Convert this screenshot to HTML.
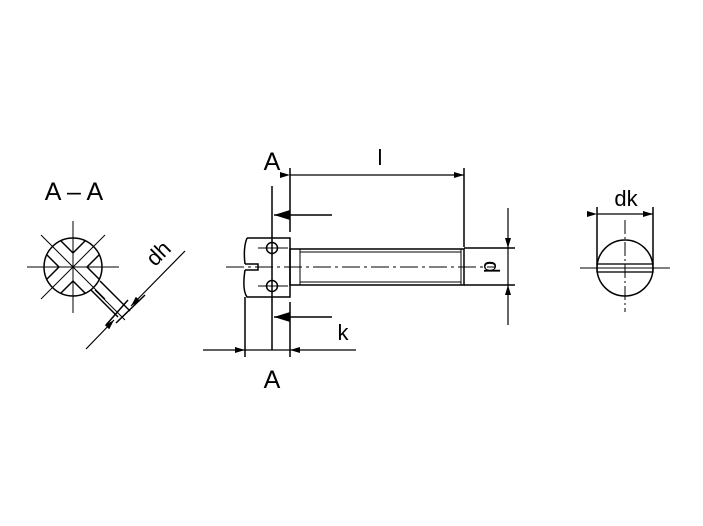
<!DOCTYPE html>
<html><head><style>body{margin:0;background:#fff}svg{display:block}</style></head><body>
<svg width="703" height="526" viewBox="0 0 703 526" xmlns="http://www.w3.org/2000/svg" font-family="Liberation Sans, sans-serif">
<defs>
<marker id="ar" viewBox="0 0 10 6" refX="10" refY="3" markerWidth="10" markerHeight="6" orient="auto" markerUnits="userSpaceOnUse"><path d="M0,0L10,3L0,6z" fill="#000"/></marker>
<marker id="big" viewBox="0 0 16 10" refX="16" refY="5" markerWidth="16" markerHeight="10" orient="auto" markerUnits="userSpaceOnUse"><path d="M0,0L16,5L0,10z" fill="#000"/></marker>
</defs>
<g stroke="#000" fill="none" stroke-width="1.5">
<!-- main view -->
<path d="M247,238 H290 V297 H247 Q242,290 245,270 M245,264 Q243,248 247,238"/>
<path d="M245,264 H258 V270 H245"/>
<rect x="290" y="249" width="174" height="36"/>
<line x1="300" y1="252" x2="461" y2="252" stroke-width="1"/>
<line x1="300" y1="282" x2="461" y2="282" stroke-width="1"/>
<line x1="300" y1="249" x2="300" y2="285" stroke-width="1"/>
<line x1="461" y1="249" x2="461" y2="285" stroke-width="1"/>
<line x1="226" y1="267" x2="495" y2="267" stroke-width="1" stroke-dasharray="18,4,3,4"/>
<circle cx="272" cy="248" r="5.5"/><circle cx="272" cy="286" r="5.5"/>
<line x1="258" y1="248" x2="288" y2="248" stroke-width="1"/>
<line x1="258" y1="286" x2="288" y2="286" stroke-width="1"/>
<line x1="272" y1="186" x2="272" y2="350"/>
<!-- l -->
<line x1="290" y1="168" x2="290" y2="232"/>
<line x1="464" y1="168" x2="464" y2="247"/>
<line x1="290" y1="175" x2="464" y2="175" marker-start="url(#ar)" marker-end="url(#ar)" stroke-width="1.2"/>
<!-- A arrows -->
<line x1="332" y1="215" x2="274" y2="215" marker-end="url(#big)"/>
<line x1="332" y1="317" x2="274" y2="317" marker-end="url(#big)"/>
<!-- k -->
<line x1="290" y1="302" x2="290" y2="357"/>
<line x1="245" y1="297" x2="245" y2="357"/>
<line x1="203" y1="350" x2="245" y2="350" marker-end="url(#ar)" stroke-width="1.2"/>
<line x1="356" y1="350" x2="290" y2="350" marker-end="url(#ar)" stroke-width="1.2"/>
<line x1="245" y1="350" x2="290" y2="350" stroke-width="1.2"/>
<!-- d -->
<line x1="464" y1="248" x2="515" y2="248"/>
<line x1="464" y1="285" x2="515" y2="285"/>
<line x1="508" y1="208" x2="508" y2="248" marker-end="url(#ar)" stroke-width="1.2"/>
<line x1="508" y1="325" x2="508" y2="285" marker-end="url(#ar)" stroke-width="1.2"/>
<line x1="508" y1="248" x2="508" y2="285" stroke-width="1.2"/>
<!-- A-A section -->
<circle cx="73" cy="267" r="29"/>
<line x1="27" y1="267" x2="119" y2="267" stroke-width="1"/>
<line x1="73" y1="221" x2="73" y2="313" stroke-width="1"/>
<line x1="41" y1="235" x2="105" y2="299" stroke-width="1"/>
<line x1="105" y1="235" x2="41" y2="299" stroke-width="1"/>
<path d="M61,241 L73,253 L85,241 M61,293 L73,281 L85,293 M47,255 L59,267 L47,279 M99,255 L87,267 L99,279"/>
<line x1="91" y1="290" x2="118" y2="317"/>
<line x1="100" y1="281" x2="130" y2="311"/>
<line x1="95" y1="290" x2="125" y2="320" stroke-width="1"/>
<line x1="128" y1="300" x2="106" y2="325"/>
<line x1="145" y1="295" x2="116" y2="323"/>
<line x1="185" y1="251" x2="131" y2="306" marker-end="url(#ar)" stroke-width="1.2"/>
<line x1="86" y1="349" x2="114" y2="320" marker-end="url(#ar)" stroke-width="1.2"/>
<!-- right view -->
<circle cx="625" cy="268" r="28"/>
<rect x="597" y="264" width="56" height="8" stroke-width="1.3"/>
<line x1="580" y1="268" x2="670" y2="268" stroke-width="1"/>
<line x1="625" y1="220" x2="625" y2="312" stroke-width="1" stroke-dasharray="14,3,2,3"/>
<line x1="597" y1="207" x2="597" y2="265"/>
<line x1="653" y1="207" x2="653" y2="265"/>
<line x1="597" y1="214" x2="653" y2="214" marker-start="url(#ar)" marker-end="url(#ar)" stroke-width="1.2"/>
</g>
<g font-size="25" fill="#000" text-anchor="middle">
<text x="272" y="170">A</text>
<text x="272" y="388">A</text>
<text x="74" y="200">A – A</text>
<text x="380" y="165" font-size="22">l</text>
<text x="343" y="340" font-size="22">k</text>
<text x="626" y="206" font-size="22">dk</text>
<text transform="translate(492,267) rotate(90)" font-size="22" y="8">d</text>
<text transform="translate(158,253) rotate(-45)" font-size="22" y="8">dh</text>
</g>
</svg>
</body></html>
